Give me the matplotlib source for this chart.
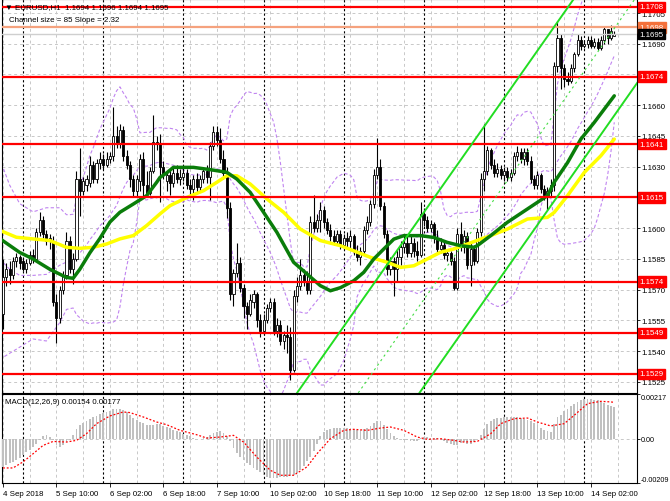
import numpy as np
import pandas as pd
import matplotlib

matplotlib.use("Agg")
import matplotlib.pyplot as plt
import matplotlib.transforms as mtransforms

plt.rcParams["font.family"] = ["Liberation Sans", "DejaVu Sans"]

# all prices below are in pips above BASE
BASE = 1.1500
PIP = 0.0001

# EURUSD H1 candles, 4 Sep 18:00 .. 14 Sep 09:00
opens = [
    58, 76, 80, 77, 84, 86, 84, 80, 83, 87,
    85, 98, 104, 97, 94, 94, 64, 56, 70, 77,
    94, 80, 85, 124, 118, 121, 122, 131, 124, 132,
    134, 131, 134, 135, 145, 141, 148, 135, 131, 124,
    118, 123, 134, 121, 117, 128, 142, 141, 130, 123,
    126, 122, 127, 124, 125, 127, 121, 119, 124, 120,
    124, 128, 125, 140, 147, 143, 134, 127, 110, 68,
    78, 83, 71, 62, 58, 64, 68, 55, 50, 55,
    61, 64, 50, 53, 45, 48, 47, 31, 67, 72,
    77, 74, 70, 103, 100, 104, 109, 103, 99, 96,
    94, 97, 92, 95, 94, 96, 89, 86, 89, 99,
    103, 112, 126, 130, 111, 97, 80, 84, 80, 86,
    91, 93, 88, 93, 89, 87, 107, 104, 100, 102,
    95, 90, 92, 87, 88, 84, 71, 97, 91, 96,
    82, 90, 84, 98, 124, 128, 138, 131, 127, 129,
    126, 128, 125, 127, 135, 137, 134, 137, 133, 124,
    121, 126, 119, 116, 118, 121, 179, 193, 178, 173,
    172, 178, 185, 192, 189, 190, 192, 189, 191, 188,
    192, 197, 193, 194,
]
highs = [
    85, 83, 84, 86, 88, 87, 86, 85, 89, 90,
    100, 108, 106, 99, 97, 96, 68, 72, 79, 98,
    96, 88, 128, 139, 125, 126, 135, 133, 134, 137,
    136, 137, 137, 159, 150, 151, 150, 138, 133, 126,
    126, 136, 137, 128, 130, 155, 145, 146, 133, 128,
    129, 130, 131, 129, 130, 129, 124, 126, 127, 126,
    130, 131, 142, 150, 150, 149, 138, 130, 113, 80,
    93, 86, 73, 64, 68, 70, 69, 58, 58, 63,
    66, 66, 56, 55, 50, 53, 52, 70, 76, 85,
    80, 79, 106, 116, 107, 113, 111, 105, 102, 99,
    99, 99, 97, 98, 99, 97, 92, 91, 101, 106,
    114, 129, 144, 134, 113, 99, 86, 86, 90, 94,
    97, 97, 96, 95, 94, 113, 110, 106, 104, 103,
    99, 95, 94, 90, 89, 86, 100, 103, 99, 98,
    93, 92, 100, 127, 151, 140, 139, 134, 132, 131,
    130, 130, 129, 137, 140, 139, 139, 139, 135, 126,
    128, 127, 121, 120, 124, 181, 201, 195, 180, 176,
    180, 186, 195, 194, 192, 194, 194, 193, 193, 194,
    198, 197, 199, 196,
]
lows = [
    51, 72, 73, 75, 81, 80, 79, 78, 82, 83,
    84, 96, 95, 92, 90, 62, 44, 54, 68, 75,
    78, 73, 84, 106, 116, 118, 120, 122, 122, 129,
    129, 130, 132, 133, 139, 139, 133, 129, 120, 115,
    115, 118, 115, 115, 116, 127, 138, 113, 124, 118,
    116, 120, 122, 121, 123, 119, 116, 114, 117, 118,
    122, 122, 114, 138, 140, 132, 124, 105, 65, 62,
    76, 69, 56, 51, 57, 61, 52, 47, 48, 54,
    59, 48, 47, 43, 41, 39, 26, 30, 64, 70,
    72, 68, 68, 98, 98, 98, 100, 97, 94, 92,
    92, 90, 90, 91, 90, 87, 84, 82, 87, 97,
    101, 110, 124, 109, 95, 77, 77, 67, 74, 82,
    88, 86, 86, 86, 84, 86, 101, 98, 98, 93,
    88, 88, 85, 84, 82, 70, 70, 89, 88, 80,
    72, 82, 83, 96, 118, 126, 129, 125, 125, 124,
    123, 123, 123, 126, 133, 132, 131, 131, 122, 119,
    119, 117, 114, 109, 115, 118, 176, 168, 169, 170,
    171, 176, 184, 187, 188, 188, 188, 188, 187, 187,
    190, 190, 192, 194,
]
closes = [
    76, 80, 77, 84, 86, 83, 80, 83, 87, 85,
    98, 104, 97, 94, 95, 64, 56, 70, 77, 94,
    80, 85, 124, 118, 123, 124, 131, 124, 132, 134,
    131, 134, 135, 145, 141, 148, 135, 131, 124, 118,
    124, 134, 121, 117, 128, 142, 141, 130, 126, 126,
    122, 127, 124, 125, 127, 121, 119, 124, 120, 124,
    128, 125, 140, 147, 143, 134, 127, 110, 68, 78,
    83, 71, 62, 58, 65, 68, 55, 50, 55, 61,
    64, 50, 53, 45, 48, 47, 31, 67, 72, 77,
    74, 70, 103, 100, 104, 109, 103, 99, 96, 94,
    97, 92, 95, 94, 96, 89, 86, 89, 99, 103,
    112, 126, 130, 111, 97, 80, 84, 80, 86, 91,
    93, 88, 93, 89, 87, 107, 104, 100, 102, 95,
    90, 92, 87, 88, 84, 71, 97, 91, 96, 82,
    90, 84, 98, 124, 128, 138, 131, 127, 129, 126,
    128, 125, 127, 135, 137, 134, 137, 133, 124, 121,
    126, 119, 116, 118, 121, 179, 193, 178, 173, 172,
    178, 185, 192, 189, 190, 192, 189, 191, 188, 192,
    197, 193, 196, 195,
]

# moving averages (bar index, pips)
green_bars = [-1, 5, 9, 14, 19, 21, 23, 26, 29, 32, 35, 39, 43, 46, 47, 49, 51, 57,
              62, 67, 70, 74, 78, 82, 87, 91, 95, 98, 101, 105, 108, 111, 114, 117,
              120, 125, 129, 133, 137, 141, 142, 146, 151, 157, 163, 165, 169, 173,
              177, 183]
green_vals = [95, 88.2, 85, 80, 76, 75.6, 80, 88, 95, 103, 107.8, 111.8, 115.9, 122.4,
              124.8, 127, 129.7, 129.7, 128.6, 127.3, 124, 117.5, 107.8, 98, 83.4, 77.7,
              72, 69.5, 71, 74.4, 78.5, 85, 89.9, 94.7, 96.4, 96.4, 95.5, 93.1, 91.5,
              90.7, 91.5, 96.4, 102.9, 109.4, 115.9, 122.4, 132, 143.5, 151.6, 164.6]
yellow_bars = [-1, 4, 9, 14, 19, 23, 27, 31, 35, 39, 43, 47, 50, 55, 60, 64, 67, 70,
               74, 79, 84, 89, 95, 101, 105, 110, 115, 119, 123, 127, 131, 135, 139,
               143, 146, 151, 157, 163, 165, 169, 174, 179, 183]
yellow_vals = [99, 95.6, 94.8, 94, 90.7, 90.2, 90.7, 92.3, 94.8, 96.4, 101.3, 107, 111,
               115, 118.3, 122.4, 125.6, 125.6, 121.6, 114.3, 107.8, 99.6, 94, 91.5, 89,
               85.8, 83.4, 80.9, 81.7, 85, 88.3, 89.9, 92.3, 94.7, 96.4, 99.6, 104.5,
               105.3, 107.7, 115.9, 127.2, 135.4, 143.5]

# bollinger bands (20, 2) before enough bars are on screen
bb_head_bars = [-1, 2, 5, 9, 13, 17]
bb_head_upper = [134, 121, 112, 108, 110, 110]
bb_head_lower = [36, 39, 42, 46, 45, 54]

# support / resistance levels
levels = [1.1708, 1.1674, 1.1641, 1.1615, 1.1574, 1.1549, 1.1529]
ask_price = 1.1698
bid_price = 1.1695

# regression channel
chan_anchor_bar = 88
chan_anchor_pips = 19.6
chan_slope = 2.32  # pips per bar
chan_size = 85

# MACD(12,26,9), units of 1e-5
macd_hist = [
    -132, -125, -115, -108, -98, -88, -77, -63, -50, -37,
    -22, -5, 14, 22, 11, -5, -25, -37, -26, -15,
    -5, 20, 48, 70, 80, 88, 97, 105, 112, 120,
    126, 132, 138, 143, 146, 147, 140, 131, 118, 102,
    92, 84, 76, 70, 67, 70, 74, 72, 64, 59,
    53, 46, 40, 34, 27, 20, 14, 8, 4, 3,
    6, 11, 22, 32, 36, 38, 30, 15, -10, -42,
    -65, -85, -98, -112, -125, -138, -148, -158, -170, -178,
    -183, -185, -184, -182, -180, -178, -176, -172, -162, -148,
    -128, -105, -85, -55, -20, 18, 35, 45, 51, 54,
    56, 56, 55, 53, 51, 48, 44, 44, 50, 55,
    65, 77, 88, 90, 70, 48, 30, 18, 8, 2,
    -3, -5, -8, -10, -6, 6, 11, 10, 8, 7,
    5, -2, -10, -18, -24, -29, -25, -18, -15, -20,
    -22, -15, 2, 22, 50, 75, 88, 96, 100, 104,
    107, 107, 108, 107, 106, 103, 99, 93, 86, 76,
    67, 56, 46, 38, 35, 75, 105, 118, 135, 146,
    158, 170, 180, 186, 191, 193, 192, 190, 186, 180,
    172, 165, 160, 154,
]
signal_bars = [0, 3, 6, 9, 12, 15, 19, 22, 25, 28, 32, 36, 38, 42, 46, 49, 53, 58, 61,
               65, 69, 72, 76, 80, 83, 87, 91, 94, 98, 102, 105, 109, 113, 116, 120,
               124, 127, 131, 135, 138, 142, 146, 149, 153, 157, 160, 164, 168, 171,
               175, 179, 182, 183]
signal_vals = [-137, -137, -108, -69, -29, -10, -13, -5, 27, 75, 112, 131, 128, 107, 83,
               70, 43, 22, 6, 11, 19, -13, -85, -148, -172, -172, -132, -69, 3, 43, 48,
               43, 54, 59, 43, 11, 0, 3, -5, -13, -10, 27, 75, 99, 102, 83, 64, 75, 115,
               171, 182, 179, 177]

# time axis
label_bars = [0, 16, 32, 48, 64, 80, 96, 112, 128, 144, 160, 176]
time_labels = ["4 Sep 2018", "5 Sep 10:00", "6 Sep 02:00", "6 Sep 18:00",
               "7 Sep 10:00", "10 Sep 02:00", "10 Sep 18:00", "11 Sep 10:00",
               "12 Sep 02:00", "12 Sep 18:00", "13 Sep 10:00", "14 Sep 02:00"]
day_starts = [6, 30, 54, 78, 102, 126, 150, 174]


def px(p):
    return BASE + np.asarray(p, dtype=float) * PIP


o, h, l, c = px(opens), px(highs), px(lows), px(closes)
idx = np.arange(len(c))

FS = 5.7
fig = plt.figure(figsize=(6.7, 5.02), dpi=100)
ax = fig.add_axes([2 / 670, 108 / 502, 635 / 670, 394 / 502])
axm = fig.add_axes([2 / 670, 18 / 502, 635 / 670, 89 / 502], sharex=ax)

grid_kw = dict(color="#c8c8c8", linestyle=(0, (3, 3)), linewidth=0.7)
for a in (ax, axm):
    a.set_xticks(label_bars)
    a.set_xticks(np.arange(8, 190, 16), minor=True)
    a.grid(True, which="both", axis="x", **grid_kw)
    a.set_axisbelow(True)
    for d in day_starts:
        a.axvline(d, color="black", linestyle=(0, (2, 2)), linewidth=0.8, zorder=1)
    for s in a.spines.values():
        s.set_color("black")
        s.set_linewidth(0.8)

ax.set_xlim(-0.3, 189.8)
ax.set_ylim(px(19.63), px(211.83))
ax.grid(True, axis="y", **grid_kw)

# bollinger bands
cl = pd.Series(c)
bb_mid = cl.rolling(20).mean().to_numpy()
bb_sd = cl.rolling(20).std(ddof=0).to_numpy()
hu, hl = px(bb_head_upper), px(bb_head_lower)
bb_x = np.concatenate([bb_head_bars, idx[19:]])
bb_u = np.concatenate([hu, (bb_mid + 2 * bb_sd)[19:]])
bb_l = np.concatenate([hl, (bb_mid - 2 * bb_sd)[19:]])
bb_m = np.concatenate([(hu + hl) / 2, bb_mid[19:]])
for band in (bb_u, bb_m, bb_l):
    ax.plot(bb_x, band, color="#c084f0", linestyle=(0, (3, 2)), linewidth=0.8, zorder=2)

# candles
up = c >= o
ax.vlines(idx, l, h, color="black", linewidth=0.8, zorder=3)
ax.bar(idx[up], (c - o)[up], bottom=o[up], width=0.62, color="white",
       edgecolor="black", linewidth=0.6, zorder=4)
ax.bar(idx[~up], (o - c)[~up], bottom=c[~up], width=0.62, color="black",
       edgecolor="black", linewidth=0.6, zorder=4)

# moving averages
ax.plot(yellow_bars, px(yellow_vals), color="#ffff00", linewidth=2.5, zorder=5,
        solid_capstyle="round")
ax.plot(green_bars, px(green_vals), color="#0a7d0a", linewidth=2.5, zorder=6,
        solid_capstyle="round")

# levels
for lv in levels:
    ax.axhline(lv, color="#ff0000", linewidth=1.6, zorder=7)
ax.axhline(ask_price, color="#f5a27e", linewidth=1.6, zorder=7)
ax.axhline(bid_price, color="#cfcfcf", linewidth=1.0, zorder=7)

# channel
cx = np.array([80, 190])
top = px(chan_anchor_pips + chan_slope * (cx - chan_anchor_bar))
ax.plot(cx, top, color="#22dd22", linewidth=1.4, zorder=8)
ax.plot(cx, top - chan_size * PIP, color="#22dd22", linewidth=1.4, zorder=8)
ax.plot(cx, top - chan_size / 2 * PIP, color="#44dd44", linewidth=0.8,
        linestyle=(0, (2, 3)), zorder=8)

# price scale
ticks_p = np.arange(25, 206, 15)
ax.yaxis.tick_right()
ax.set_yticks(px(ticks_p))
ax.set_yticklabels(["" if t in (115, 175) else "%.4f" % px(t) for t in ticks_p])
ax.tick_params(axis="y", labelsize=FS, length=2, pad=1.5, width=0.6)
ax.tick_params(axis="x", which="both", length=0, labelbottom=False)

tr = mtransforms.blended_transform_factory(ax.transAxes, ax.transData)
box_kw = dict(transform=tr, fontsize=FS, color="white", va="center", ha="left",
              clip_on=False, zorder=10)
for lv in levels:
    ax.text(1.004, lv, "%.4f" % lv,
            bbox=dict(boxstyle="square,pad=0.22", fc="#ff0000", ec="#ff0000"), **box_kw)
ax.text(1.004, ask_price, "%.4f" % ask_price,
        bbox=dict(boxstyle="square,pad=0.22", fc="#f4713a", ec="#f4713a"), **box_kw)
ax.text(1.004, bid_price - 0.00003, "%.4f" % bid_price,
        bbox=dict(boxstyle="square,pad=0.22", fc="black", ec="black"), **box_kw)

ax.text(0.005, 1 - 8 / 394, "\u25bc EURUSD,H1  1.1694 1.1696 1.1694 1.1695",
        transform=ax.transAxes, fontsize=FS, va="center", zorder=10)
ax.text(0.011, 1 - 20 / 394, "Channel size = 85 Slope = 2.32",
        transform=ax.transAxes, fontsize=FS, va="center", zorder=10)

# MACD panel
axm.set_ylim(-0.00209, 0.00217)
axm.axhline(0, **grid_kw, zorder=1)
axm.bar(idx, np.array(macd_hist) * 1e-5, width=0.55, color="#c0c0c0", zorder=3)
axm.plot(signal_bars, np.array(signal_vals) * 1e-5, color="#ff0000",
         linestyle=(0, (1.5, 1.5)), linewidth=0.9, zorder=4)
axm.yaxis.tick_right()
axm.set_yticks([-0.00209, 0, 0.00217])
axm.set_yticklabels(["-0.00209", "0.00", "0.00217"])
for lbl, va in zip(axm.get_yticklabels(), ["bottom", "center", "top"]):
    lbl.set_va(va)
axm.tick_params(axis="y", labelsize=5.2, length=2, pad=1, width=0.6)
axm.set_xticklabels(time_labels, ha="left")
axm.tick_params(axis="x", which="major", labelsize=FS, length=3, pad=2, width=0.6)
axm.tick_params(axis="x", which="minor", length=0)
axm.text(0.005, 1 - 8 / 89, "MACD(12,26,9) 0.00154 0.00177",
         transform=axm.transAxes, fontsize=FS, va="center", zorder=10)

fig.savefig("out.png", dpi=100)
